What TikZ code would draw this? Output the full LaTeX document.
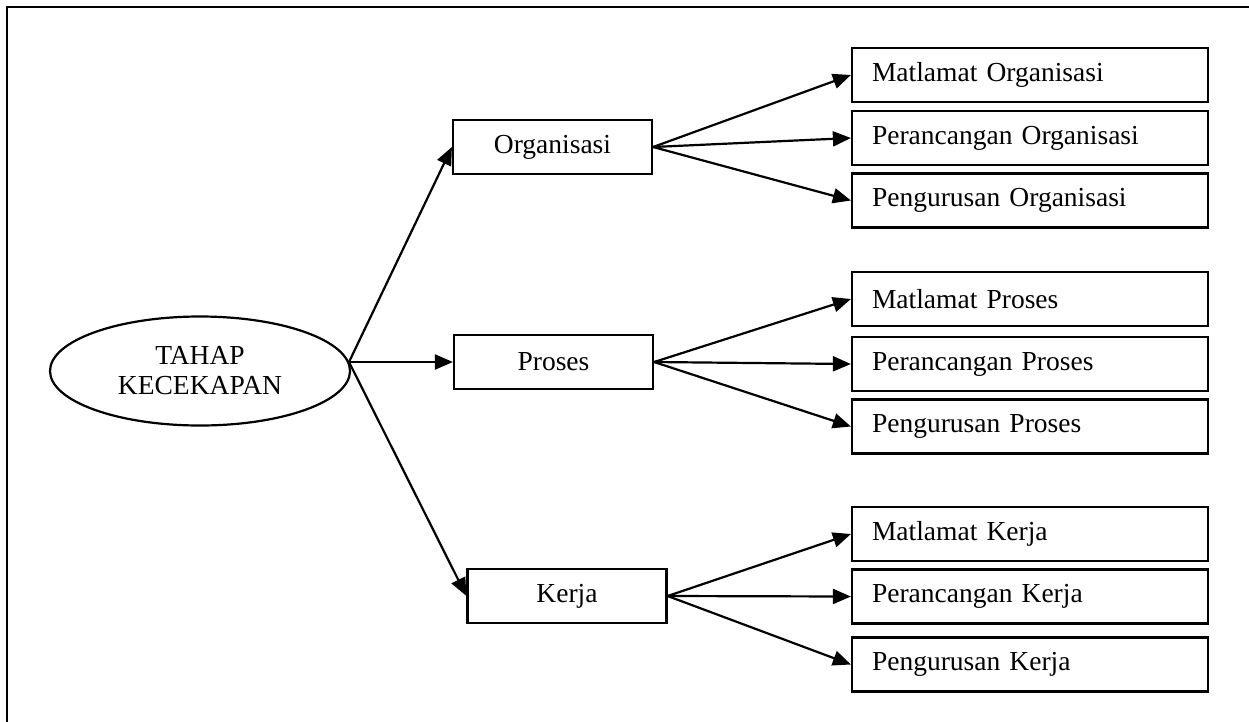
\documentclass[tikz,border=0pt]{standalone}
\usepackage{fontspec}
\setmainfont{Liberation Serif}
\usetikzlibrary{shapes.geometric,arrows.meta}
\tikzset{
  every node/.style={font=\fontsize{27.5}{30}\selectfont},
  midbox/.style={draw, line width=2.2pt, rectangle, minimum width=199pt, minimum height=54pt, inner sep=0pt},
  leafbox/.style={draw, line width=2.2pt, rectangle, minimum height=54pt, text width=316pt, align=left, inner xsep=20pt, inner ysep=0pt},
  oval/.style={draw, line width=2.2pt, ellipse, minimum width=300pt, minimum height=109pt, inner sep=0pt, align=center},
  arr/.style={line width=2.2pt, -{Triangle[length=18pt,width=15pt]}}
}
\begin{document}
\begin{tikzpicture}[x=1pt,y=-1pt]
\useasboundingbox (0,0) rectangle (1249,721);
\draw[line width=2.8pt] (7,760) -- (7,7) -- (1300,7);
\node[oval] (root) at (200,371) {\raisebox{-3pt}{TAHAP}\\\raisebox{-3pt}{KECEKAPAN}};
\coordinate (hub) at (349,362);
\node[midbox] (org) at (552.5,147) {Organisasi};
\node[midbox] (pro) at (553.5,362) {Proses};
\node[midbox] (ker) at (567,596) {Kerja};
\node[leafbox] (o1) at (1030,75) {Matlamat Organisasi};
\node[leafbox] (o2) at (1030,138) {Perancangan Organisasi};
\node[leafbox] (o3) at (1030,200.5) {Pengurusan Organisasi};
\node[leafbox] (p1) at (1030,299) {Matlamat Proses};
\node[leafbox] (p2) at (1030,364) {Perancangan Proses};
\node[leafbox] (p3) at (1030,426.5) {Pengurusan Proses};
\node[leafbox] (k1) at (1030,534) {Matlamat Kerja};
\node[leafbox] (k2) at (1030,596.5) {Perancangan Kerja};
\node[leafbox] (k3) at (1030,664.5) {Pengurusan Kerja};
\draw[arr] (hub) -- (org.west);
\draw[arr] (hub) -- (pro.west);
\draw[arr] (hub) -- (ker.west);
\foreach \s/\t in {org/o1,org/o2,org/o3,pro/p1,pro/p2,pro/p3,ker/k1,ker/k2,ker/k3}
  \draw[arr] (\s.east) -- (\t.west);
\end{tikzpicture}
\end{document}
